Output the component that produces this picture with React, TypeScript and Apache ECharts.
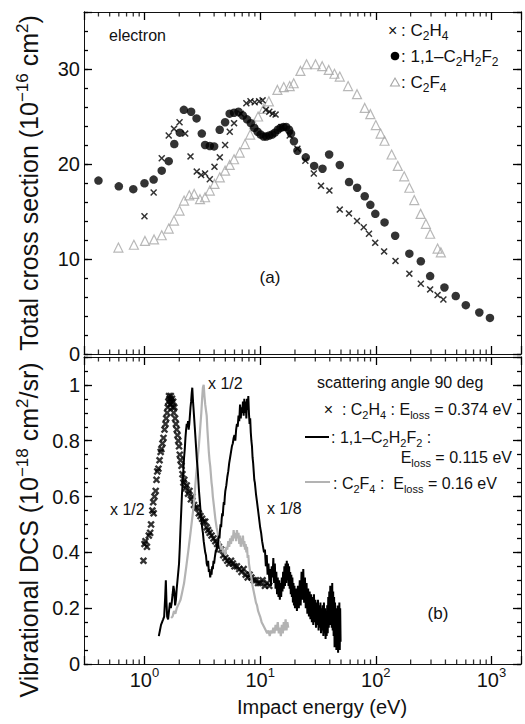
import React, { useEffect, useRef } from 'react';
import * as echarts from 'echarts';

// ---------- axis ranges / ticks ----------
const X_MIN = 0.3;
const X_MAX = 1800;
const xMajorTicks = [1, 10, 100, 1000];
const xMinorTicks = [0.4, 0.5, 0.6, 0.7, 0.8, 0.9, 2, 3, 4, 5, 6, 7, 8, 9, 20, 30, 40, 50, 60, 70, 80, 90, 200, 300, 400, 500, 600, 700, 800, 900];
const Y_TOP_MAX = 36;
const yTopMajorStep = 10;
const yTopMinorStep = 2;
const yTopLabels = [0, 10, 20, 30];
const Y_BOT_MAX = 1.1;
const yBotMajorStep = 0.2;
const yBotMinorStep = 0.05;
const yBotLabels = [0, 0.2, 0.4, 0.6, 0.8, 1];

// ---------- (a) total cross sections [E (eV), sigma (1e-16 cm2)] ----------
const tcsC2H4 = [
  [1.0, 14.5], [1.2, 17.0], [1.41, 20.6], [1.62, 23.0], [1.8, 23.7], [2.01, 24.4], [2.25, 23.2], [2.5, 20.8],
  [2.83, 19.2], [3.09, 18.85], [3.34, 19.0], [3.67, 18.4], [4.03, 19.7], [4.48, 20.7], [4.98, 22.0], [5.46, 23.4],
  [5.95, 24.3], [6.8, 25.3], [7.6, 26.4], [8.25, 26.6], [8.97, 26.5], [9.8, 26.6], [10.5, 26.7], [11.2, 25.7],
  [12.0, 25.5], [12.8, 25.3], [13.6, 25.2], [15.3, 23.9], [18.0, 23.0], [21.0, 21.6], [24.6, 20.35], [29.1, 19.0],
  [33.6, 17.7], [39.7, 17.2], [48.8, 15.2], [58.6, 14.8], [68.8, 14.0], [78.6, 13.35], [87.3, 12.66], [98.8, 11.7],
  [118, 10.8], [148, 9.8], [195, 8.46], [245, 7.4], [295, 6.8], [342, 6.2], [384, 5.74],
];
const tcsC2H2F2 = [
  [0.4, 18.25], [0.6, 17.65], [0.8, 17.35], [1.0, 17.97], [1.2, 18.36], [1.41, 19.3], [1.62, 20.3], [1.81, 22.1],
  [2.02, 23.3], [2.19, 25.7], [2.53, 25.5], [2.82, 24.8], [3.13, 23.2], [3.34, 22.0], [3.67, 21.9], [4.0, 21.85],
  [4.47, 23.6], [4.98, 24.4], [5.45, 25.3], [5.95, 25.4], [6.5, 25.5], [7.1, 25.1], [7.7, 24.7], [8.3, 24.3],
  [8.9, 23.8], [9.5, 23.4], [10.1, 23.1], [10.7, 22.9], [11.3, 22.9], [12.0, 23.0], [12.7, 23.1], [13.4, 23.3],
  [14.2, 23.6], [15.0, 23.8], [15.9, 23.9], [16.8, 23.9], [17.8, 23.6], [18.5, 23.2], [19.6, 22.4], [21.0, 21.4],
  [24.8, 20.7], [29.3, 19.8], [34.6, 19.5], [39.5, 21.0], [48.8, 19.9], [58.7, 18.1], [68.9, 17.5], [80.2, 16.6],
  [89.7, 15.7], [99, 14.75], [119, 13.85], [147, 12.45], [195, 10.56], [245, 9.76], [295, 8.2], [392, 7.0],
  [491, 6.1], [600, 5.14], [785, 4.37], [970, 3.8],
];
const tcsC2F4 = [
  [0.595, 11.2], [0.81, 11.5], [1.01, 11.9], [1.21, 12.06], [1.41, 12.5], [1.62, 13.2], [1.8, 14.05], [2.01, 15.1],
  [2.2, 16.15], [2.44, 16.7], [2.69, 16.85], [3.02, 16.3], [3.34, 16.5], [3.67, 17.2], [4.03, 17.9], [4.48, 18.6],
  [4.98, 19.3], [5.46, 19.9], [5.95, 20.5], [6.65, 21.2], [7.4, 22.1], [8.2, 23.1], [8.85, 24.2], [9.6, 25.0],
  [10.7, 25.8], [11.9, 26.6], [14.1, 27.8], [16.0, 28.1], [18.0, 28.2], [19.5, 28.5], [22.3, 29.8], [25.2, 30.5],
  [30.1, 30.5], [34.4, 30.3], [39.2, 29.9], [43.9, 29.5], [48.8, 29.2], [57.6, 28.2], [68.8, 27.35], [80.2, 25.9],
  [89.7, 25.25], [100, 24.1], [110, 23.2], [119, 22.45], [137, 21.0], [155, 19.8], [176, 18.7], [195, 17.5],
  [215, 16.2], [244, 14.75], [271, 13.7], [295, 12.66], [342, 11.1], [365, 10.7],
];

// ---------- (b) vibrational DCS [E (eV), DCS (1e-18 cm2/sr)] ----------
const dcsC2H4 = [
  [0.98, 0.37], [1.0, 0.43], [1.02, 0.44], [1.05, 0.42], [1.09, 0.46], [1.12, 0.47], [1.14, 0.5], [1.17, 0.55],
  [1.19, 0.58], [1.2, 0.54], [1.22, 0.6], [1.25, 0.62], [1.27, 0.66], [1.29, 0.69], [1.32, 0.7], [1.35, 0.73],
  [1.38, 0.76], [1.4, 0.77], [1.43, 0.79], [1.46, 0.81], [1.49, 0.84], [1.52, 0.86], [1.54, 0.88], [1.57, 0.9],
  [1.59, 0.92], [1.61, 0.94], [1.63, 0.96], [1.65, 0.95], [1.67, 0.93], [1.69, 0.96], [1.71, 0.94], [1.73, 0.95],
  [1.75, 0.92], [1.77, 0.94], [1.79, 0.9], [1.81, 0.92], [1.84, 0.88], [1.87, 0.86], [1.9, 0.84], [1.93, 0.82],
  [1.96, 0.8], [1.99, 0.78], [2.02, 0.75], [2.05, 0.73], [2.09, 0.71], [2.13, 0.68], [2.17, 0.65], [2.21, 0.66],
  [2.26, 0.63], [2.32, 0.64], [2.38, 0.61], [2.45, 0.62], [2.52, 0.59], [2.6, 0.6], [2.68, 0.57], [2.77, 0.56],
  [2.86, 0.56], [2.95, 0.54], [3.05, 0.53], [3.15, 0.52], [3.25, 0.51], [3.35, 0.51], [3.45, 0.49], [3.55, 0.48],
  [3.66, 0.47], [3.8, 0.46], [3.95, 0.45], [4.1, 0.44], [4.25, 0.43], [4.4, 0.42], [4.6, 0.41], [4.8, 0.39],
  [5.0, 0.38], [5.2, 0.37], [5.4, 0.36], [5.6, 0.37], [5.8, 0.36], [6.0, 0.35], [6.3, 0.35], [6.6, 0.34],
  [6.9, 0.33], [7.2, 0.34], [7.5, 0.32], [7.8, 0.31], [8.1, 0.32], [8.4, 0.31], [8.8, 0.3], [9.2, 0.3],
  [9.6, 0.29], [10.0, 0.29], [10.5, 0.3], [11.0, 0.28], [11.5, 0.29], [12.0, 0.28],
];
const dcsC2H2F2 = [
  [1.33, 0.1], [1.36, 0.12], [1.39, 0.14], [1.42, 0.15], [1.45, 0.16], [1.48, 0.17], [1.51, 0.24], [1.53, 0.3],
  [1.55, 0.22], [1.57, 0.17], [1.6, 0.16], [1.63, 0.19], [1.66, 0.22], [1.69, 0.2], [1.72, 0.22], [1.75, 0.25],
  [1.78, 0.28], [1.81, 0.26], [1.84, 0.21], [1.87, 0.23], [1.9, 0.27], [1.93, 0.3], [1.96, 0.33], [1.99, 0.36],
  [2.02, 0.42], [2.05, 0.49], [2.08, 0.55], [2.11, 0.61], [2.14, 0.65], [2.17, 0.7], [2.2, 0.74], [2.23, 0.77],
  [2.26, 0.81], [2.29, 0.84], [2.32, 0.86], [2.35, 0.85], [2.38, 0.87], [2.41, 0.84], [2.44, 0.86], [2.47, 0.89],
  [2.5, 0.92], [2.53, 0.94], [2.56, 0.97], [2.59, 0.99], [2.62, 0.95], [2.65, 0.92], [2.68, 0.89], [2.72, 0.85],
  [2.76, 0.81], [2.8, 0.77], [2.84, 0.73], [2.88, 0.7], [2.92, 0.66], [2.96, 0.62], [3.0, 0.59], [3.05, 0.55],
  [3.1, 0.52], [3.15, 0.49], [3.2, 0.47], [3.25, 0.44], [3.3, 0.42], [3.35, 0.4], [3.4, 0.39], [3.45, 0.36],
  [3.5, 0.35], [3.55, 0.37], [3.6, 0.33], [3.65, 0.34], [3.7, 0.31], [3.75, 0.33], [3.8, 0.32], [3.85, 0.35],
  [3.9, 0.34], [3.95, 0.37], [4.0, 0.36], [4.05, 0.38], [4.1, 0.38], [4.15, 0.41], [4.2, 0.4], [4.25, 0.43],
  [4.3, 0.42], [4.35, 0.45], [4.4, 0.46], [4.45, 0.45], [4.5, 0.48], [4.55, 0.5], [4.6, 0.49], [4.65, 0.52],
  [4.7, 0.54], [4.75, 0.53], [4.8, 0.56], [4.85, 0.58], [4.9, 0.57], [4.95, 0.6], [5.0, 0.62], [5.1, 0.64],
  [5.2, 0.67], [5.3, 0.69], [5.4, 0.72], [5.5, 0.74], [5.6, 0.76], [5.7, 0.78], [5.8, 0.79], [5.9, 0.81],
  [6.0, 0.82], [6.1, 0.8], [6.2, 0.84], [6.3, 0.86], [6.4, 0.85], [6.5, 0.89], [6.6, 0.87], [6.7, 0.93],
  [6.8, 0.88], [6.9, 0.92], [7.0, 0.9], [7.1, 0.94], [7.2, 0.89], [7.3, 0.95], [7.4, 0.9], [7.5, 0.94],
  [7.6, 0.88], [7.7, 0.95], [7.8, 0.91], [7.9, 0.96], [8.0, 0.9], [8.1, 0.86], [8.2, 0.88], [8.3, 0.83],
  [8.4, 0.8], [8.5, 0.78], [8.6, 0.74], [8.7, 0.72], [8.8, 0.69], [8.9, 0.66], [9.0, 0.65], [9.2, 0.61],
  [9.4, 0.58], [9.6, 0.55], [9.8, 0.52], [10.0, 0.49], [10.2, 0.47], [10.4, 0.44], [10.6, 0.42], [10.8, 0.4],
  [11.0, 0.41], [11.2, 0.35], [11.4, 0.39], [11.6, 0.32], [11.8, 0.36], [12.0, 0.3], [12.2, 0.34], [12.4, 0.28],
  [12.6, 0.35], [12.8, 0.31], [13.0, 0.38], [13.2, 0.29], [13.4, 0.36], [13.6, 0.27], [13.8, 0.33], [14.0, 0.25],
  [14.2, 0.31], [14.4, 0.24], [14.6, 0.3], [14.8, 0.23], [15.0, 0.29], [15.2, 0.24], [15.4, 0.31], [15.6, 0.26],
  [15.8, 0.33], [16.0, 0.27], [16.2, 0.35], [16.4, 0.28], [16.6, 0.36], [16.8, 0.29], [17.0, 0.37], [17.2, 0.3],
  [17.4, 0.36], [17.6, 0.28], [17.8, 0.35], [18.0, 0.27], [18.2, 0.33], [18.4, 0.25], [18.6, 0.32], [18.8, 0.24],
  [19.0, 0.31], [19.2, 0.22], [19.4, 0.29], [19.6, 0.21], [19.8, 0.28], [20.0, 0.2], [20.4, 0.27], [20.8, 0.19],
  [21.2, 0.28], [21.6, 0.2], [22.0, 0.3], [22.4, 0.21], [22.8, 0.33], [23.2, 0.23], [23.6, 0.34], [24.0, 0.22],
  [24.4, 0.31], [24.8, 0.2], [25.2, 0.29], [25.6, 0.18], [26.0, 0.27], [26.4, 0.17], [26.8, 0.26], [27.2, 0.16],
  [27.6, 0.25], [28.0, 0.15], [28.4, 0.24], [28.8, 0.14], [29.2, 0.25], [29.6, 0.15], [30.0, 0.23], [30.4, 0.13],
  [30.8, 0.22], [31.2, 0.14], [31.6, 0.23], [32.0, 0.12], [32.4, 0.21], [32.8, 0.13], [33.2, 0.22], [33.6, 0.11],
  [34.0, 0.2], [34.4, 0.12], [34.8, 0.21], [35.2, 0.1], [35.6, 0.22], [36.0, 0.11], [36.4, 0.2], [36.8, 0.09],
  [37.2, 0.19], [37.6, 0.1], [38.0, 0.21], [38.4, 0.11], [38.8, 0.24], [39.2, 0.13], [39.6, 0.26], [40.0, 0.14],
  [40.4, 0.28], [40.8, 0.15], [41.2, 0.27], [41.6, 0.13], [42.0, 0.29], [42.4, 0.12], [42.8, 0.26], [43.2, 0.1],
  [43.6, 0.24], [44.0, 0.06], [44.4, 0.22], [44.8, 0.08], [45.2, 0.2], [45.6, 0.05], [46.0, 0.19], [46.4, 0.07],
  [46.8, 0.21], [47.2, 0.04], [47.6, 0.18], [48.0, 0.06], [48.4, 0.22], [48.8, 0.05], [49.2, 0.2], [49.6, 0.08],
];
const dcsC2F4 = [
  [1.7, 0.165], [1.75, 0.17], [1.8, 0.19], [1.85, 0.18], [1.9, 0.2], [1.95, 0.21], [2.0, 0.22], [2.05, 0.23],
  [2.1, 0.25], [2.15, 0.27], [2.2, 0.29], [2.25, 0.32], [2.3, 0.35], [2.35, 0.38], [2.4, 0.41], [2.45, 0.44],
  [2.5, 0.47], [2.55, 0.5], [2.6, 0.53], [2.65, 0.56], [2.7, 0.59], [2.75, 0.64], [2.8, 0.68], [2.85, 0.71],
  [2.9, 0.75], [2.95, 0.78], [3.0, 0.82], [3.05, 0.86], [3.1, 0.9], [3.15, 0.95], [3.2, 0.99], [3.25, 1.0],
  [3.3, 0.96], [3.35, 0.93], [3.4, 0.91], [3.45, 0.89], [3.5, 0.84], [3.55, 0.8], [3.6, 0.76], [3.65, 0.73],
  [3.7, 0.71], [3.75, 0.68], [3.8, 0.65], [3.85, 0.63], [3.9, 0.6], [3.95, 0.58], [4.0, 0.56], [4.1, 0.52],
  [4.2, 0.49], [4.3, 0.47], [4.4, 0.44], [4.5, 0.43], [4.6, 0.41], [4.7, 0.42], [4.8, 0.4], [4.9, 0.41],
  [5.0, 0.39], [5.1, 0.42], [5.2, 0.41], [5.3, 0.44], [5.4, 0.42], [5.5, 0.45], [5.6, 0.43], [5.7, 0.46],
  [5.8, 0.44], [5.9, 0.48], [6.0, 0.45], [6.1, 0.47], [6.2, 0.44], [6.3, 0.48], [6.4, 0.45], [6.5, 0.47],
  [6.6, 0.43], [6.7, 0.46], [6.8, 0.42], [6.9, 0.45], [7.0, 0.43], [7.1, 0.46], [7.2, 0.42], [7.3, 0.44],
  [7.4, 0.41], [7.5, 0.43], [7.6, 0.4], [7.7, 0.42], [7.8, 0.38], [7.9, 0.39], [8.0, 0.36], [8.2, 0.33],
  [8.4, 0.31], [8.6, 0.28], [8.8, 0.26], [9.0, 0.24], [9.2, 0.22], [9.4, 0.21], [9.6, 0.19], [9.8, 0.18],
  [10.0, 0.17], [10.3, 0.15], [10.6, 0.14], [10.9, 0.13], [11.2, 0.12], [11.5, 0.11], [11.8, 0.12], [12.1, 0.1],
  [12.4, 0.12], [12.7, 0.11], [13.0, 0.13], [13.3, 0.11], [13.6, 0.14], [13.9, 0.12], [14.2, 0.15], [14.5, 0.11],
  [14.8, 0.13], [15.1, 0.1], [15.4, 0.14], [15.7, 0.11], [16.0, 0.15], [16.3, 0.12], [16.6, 0.16], [16.9, 0.12],
  [17.2, 0.15], [17.5, 0.13],
];

// ---------- styling ----------
const FONT = '"Liberation Sans", Arial, Helvetica, sans-serif';
const INK = '#111111';
const GRAY = '#b3b3b3';
const CROSS = 'path://M0,1.5L1.5,0L5,3.5L8.5,0L10,1.5L6.5,5L10,8.5L8.5,10L5,6.5L1.5,10L0,8.5L3.5,5Z';
const CROSS_BOLD = 'path://M0,2.2L2.2,0L5,2.8L7.8,0L10,2.2L7.2,5L10,7.8L7.8,10L5,7.2L2.2,10L0,7.8L2.8,5Z';
const edgeLine = { color: INK, width: 1 };
const tickLine = { color: '#000', width: 1.3 };

function richSet(size: number) {
  const s = Math.round(size * 0.68);
  return {
    t: { fontFamily: FONT, fontSize: size, color: INK, fill: INK, lineHeight: size + 6 },
    sub: { fontFamily: FONT, fontSize: s, color: INK, fill: INK, lineHeight: s, verticalAlign: 'bottom' },
    sup: { fontFamily: FONT, fontSize: s, color: INK, fill: INK, lineHeight: s, verticalAlign: 'top' },
  };
}

function xAxis(grid: number, position: string, labels: boolean) {
  return {
    type: 'log',
    logBase: 10,
    gridIndex: grid,
    position,
    min: X_MIN,
    max: X_MAX,
    axisLine: { show: true, onZero: false, lineStyle: edgeLine },
    axisTick: { show: true, inside: true, length: 8, lineStyle: tickLine },
    axisLabel: labels
      ? {
          show: true,
          margin: 2,
          customValues: xMajorTicks,
          formatter: (v: number) => '{b|10}{s|' + Math.round(Math.log10(v)) + '}',
          rich: {
            b: { fontFamily: FONT, fontSize: 20, color: INK, lineHeight: 28 },
            s: { fontFamily: FONT, fontSize: 13, color: INK, lineHeight: 13, verticalAlign: 'top' },
          },
        }
      : { show: false },
    splitLine: { show: false },
  };
}

function yAxis(grid: number, position: string, max: number, step: number, len: number, labelVals: number[] | null) {
  return {
    type: 'value',
    gridIndex: grid,
    position,
    min: 0,
    max,
    interval: step,
    axisLine: { show: true, onZero: false, lineStyle: edgeLine },
    axisTick: { show: true, inside: true, length: len, lineStyle: tickLine },
    axisLabel: labelVals
      ? { show: true, margin: 4, customValues: labelVals, fontFamily: FONT, fontSize: 20, color: INK }
      : { show: false },
    splitLine: { show: false },
  };
}

// minor ticks of the log axes: small marks placed through the axes' own scale
function logMinorTicks(idx: number, ymax: number) {
  const base = {
    type: 'scatter',
    xAxisIndex: idx,
    yAxisIndex: idx,
    symbol: 'rect',
    symbolSize: [1.3, 4.5],
    itemStyle: { color: '#000' },
    silent: true,
    clip: false,
    z: 6,
  };
  return [
    { ...base, data: xMinorTicks.map((v) => [v, 0]), symbolOffset: [0, -2.25] },
    { ...base, data: xMinorTicks.map((v) => [v, ymax]), symbolOffset: [0, 2.25] },
  ];
}

function txt(x: number, y: number, text: string, size: number, align = 'left', rotation = 0) {
  return {
    type: 'text',
    x,
    y,
    rotation,
    silent: true,
    style: {
      text,
      rich: richSet(size),
      fontFamily: FONT,
      fontSize: size,
      fill: INK,
      align,
      textAlign: align,
      verticalAlign: 'middle',
      textVerticalAlign: 'middle',
    },
  };
}

export default function App() {
  const ref = useRef<HTMLDivElement>(null);
  useEffect(() => {
    if (!ref.current) return;
    const chart = echarts.init(ref.current, null, { renderer: 'svg' });
    chart.setOption({
      animation: false,
      backgroundColor: '#ffffff',
      grid: [
        { left: 84, right: 4, top: 12, height: 342 },
        { left: 84, right: 4, top: 357, height: 307 },
      ],
      xAxis: [
        xAxis(0, 'bottom', false),
        xAxis(1, 'bottom', true),
        xAxis(0, 'top', false),
        xAxis(1, 'top', false),
      ],
      yAxis: [
        yAxis(0, 'left', Y_TOP_MAX, yTopMajorStep, 8, yTopLabels),
        yAxis(1, 'left', Y_BOT_MAX, yBotMajorStep, 8, yBotLabels),
        yAxis(0, 'left', Y_TOP_MAX, yTopMinorStep, 4, null),
        yAxis(1, 'left', Y_BOT_MAX, yBotMinorStep, 4, null),
        yAxis(0, 'right', Y_TOP_MAX, yTopMajorStep, 8, null),
        yAxis(1, 'right', Y_BOT_MAX, yBotMajorStep, 8, null),
        yAxis(0, 'right', Y_TOP_MAX, yTopMinorStep, 4, null),
        yAxis(1, 'right', Y_BOT_MAX, yBotMinorStep, 4, null),
      ],
      series: [
        ...logMinorTicks(0, Y_TOP_MAX),
        ...logMinorTicks(1, Y_BOT_MAX),
        {
          type: 'scatter', xAxisIndex: 0, yAxisIndex: 0, data: tcsC2F4, symbol: 'triangle', symbolSize: 9,
          itemStyle: { color: 'rgba(0,0,0,0)', borderColor: '#a6a6a6', borderWidth: 1.2 }, silent: true,
        },
        {
          type: 'scatter', xAxisIndex: 0, yAxisIndex: 0, data: tcsC2H2F2, symbol: 'circle', symbolSize: 8.5,
          itemStyle: { color: '#000' }, silent: true,
        },
        {
          type: 'scatter', xAxisIndex: 0, yAxisIndex: 0, data: tcsC2H4, symbol: CROSS, symbolSize: 7,
          itemStyle: { color: '#000' }, silent: true,
        },
        {
          type: 'line', xAxisIndex: 1, yAxisIndex: 1, data: dcsC2F4, symbol: 'none', showSymbol: false,
          lineStyle: { color: GRAY, width: 2.2 }, silent: true,
        },
        {
          type: 'line', xAxisIndex: 1, yAxisIndex: 1, data: dcsC2H2F2, symbol: 'none', showSymbol: false,
          lineStyle: { color: '#000', width: 2 }, silent: true,
        },
        {
          type: 'scatter', xAxisIndex: 1, yAxisIndex: 1, data: dcsC2H4, symbol: CROSS_BOLD, symbolSize: 7.5,
          itemStyle: { color: '#000' }, silent: true,
        },
      ],
      graphic: [
        // axis titles
        txt(29, 183, '{t|Total cross section (10}{sup|−16}{t| cm}{sup|2}{t|)}', 25, 'center', Math.PI / 2),
        txt(29, 530, '{t|Vibrational DCS (10}{sup|−18}{t| cm}{sup|2}{t|/sr)}', 25, 'center', Math.PI / 2),
        txt(322, 707, 'Impact energy (eV)', 20, 'center'),
        // panel (a)
        txt(109, 35, 'electron', 16),
        txt(270, 277, '(a)', 17, 'center'),
        txt(388, 30, '×', 16),
        txt(401, 30, '{t|: C}{sub|2}{t|H}{sub|4}', 17),
        { type: 'circle', silent: true, shape: { cx: 395, cy: 56, r: 4.3 }, style: { fill: '#000' } },
        txt(401, 56, '{t|: 1,1–C}{sub|2}{t|H}{sub|2}{t|F}{sub|2}', 17),
        {
          type: 'polygon', silent: true,
          shape: { points: [[390.5, 86], [399.5, 86], [395, 78]] },
          style: { fill: 'none', stroke: '#a6a6a6', lineWidth: 1.1 },
        },
        txt(401, 82, '{t|: C}{sub|2}{t|F}{sub|4}', 17),
        // panel (b)
        txt(317, 382, 'scattering angle 90 deg', 16),
        txt(512, 409, '{t|×  : C}{sub|2}{t|H}{sub|4}{t| : E}{sub|loss}{t| = 0.374 eV}', 16, 'right'),
        { type: 'line', silent: true, shape: { x1: 305, y1: 437, x2: 329, y2: 437 }, style: { stroke: '#000', lineWidth: 2 } },
        txt(331, 437, '{t|: 1,1–C}{sub|2}{t|H}{sub|2}{t|F}{sub|2}{t| :}', 16),
        txt(512, 457, '{t|E}{sub|loss}{t| = 0.115 eV}', 16, 'right'),
        { type: 'line', silent: true, shape: { x1: 305, y1: 482, x2: 330, y2: 482 }, style: { stroke: GRAY, lineWidth: 2 } },
        txt(333, 483, '{t|: C}{sub|2}{t|F}{sub|4}{t| :  E}{sub|loss}{t| = 0.16 eV}', 16),
        txt(208, 383, 'x 1/2', 16),
        txt(110, 509, 'x 1/2', 16),
        txt(267, 508, 'x 1/8', 16),
        txt(438, 613, '(b)', 17, 'center'),
      ],
    });
    return () => chart.dispose();
  }, []);
  return <div ref={ref} style={{ position: 'absolute', left: 0, top: 0, width: 525, height: 724, background: '#fff' }} />;
}
